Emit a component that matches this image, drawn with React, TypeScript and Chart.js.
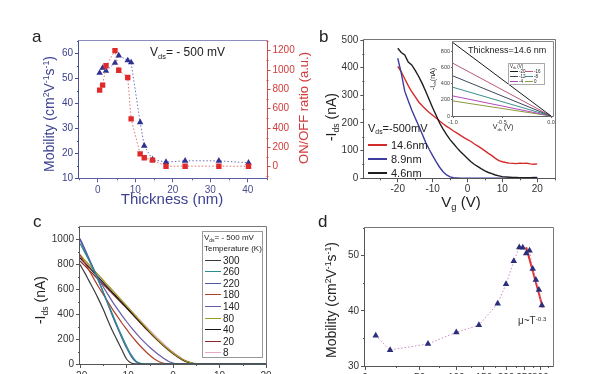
import React, { useEffect, useRef } from 'react';
import { Chart, registerables, LinearScale } from 'chart.js';

const FONT = '"Liberation Sans", Arial, Helvetica, sans-serif';

// ---------------- Panel a: mobility & ON/OFF vs thickness ----------------
const thicknessNm = [0.5, 1.3, 2.2, 4.6, 5.6, 8.0, 8.9, 11.3, 12.4, 14.6, 18.2, 23.3, 32.3, 40.2];
const mobilityVsThickness = [52.2, 54.2, 53.0, 56.2, 59.2, 57.2, 56.4, 32.4, 23.0, 17.5, 16.5, 17.0, 17.0, 16.2];
const onOffRatio = [792, 843, 1044, 1200, 997, 922, 495, 133, 92, 68, 5, 5, 5, 5];
const ticksA_x = [0, 10, 20, 30, 40];
const ticksA_y = [10, 20, 30, 40, 50, 60];
const ticksA_y2 = [0, 200, 400, 600, 800, 1000, 1200];

// ---------------- Panel b: transfer curves ----------------
const vgB = [-20, -19, -18, -17, -16, -15, -14, -13, -12, -11, -10, -9, -8, -7, -6, -5, -4, -3, -2, -1, 0,
  1, 2, 3, 4, 5, 6, 7, 8, 9, 10, 11, 12, 13, 14, 15, 16, 17, 18, 19, 20];
const ids14_6nm = [405, 385, 360, 335, 313, 295, 276, 262, 250, 238, 228, 218, 207, 197, 188, 180, 171, 163, 155, 147, 140,
  133, 124, 116, 108, 99, 90, 82, 72, 64, 60, 57, 55, 54, 53, 55, 54, 55, 52, 51, 52];
const ids8_9nm = [434, 380, 315, 280, 247, 218, 190, 160, 130, 105, 82, 60, 40, 24, 12, 5, 2, 1, 0, 0, 0,
  0, 0, 0, 0, 0, 0, 0, 0, 0, 0, 0, 1, 1, 1, 1, 2, 2, 2, 3, 3];
const ids4_6nm = [470, 455, 446, 420, 410, 390, 368, 343, 315, 285, 255, 228, 200, 178, 158, 140, 125, 110, 96, 84, 72,
  60, 50, 42, 34, 27, 21, 17, 12, 9, 6, 5, 4, 3, 3, 2, 2, 2, 2, 2, 2];
const ticksB_x = [-20, -10, 0, 10, 20];
const ticksB_y = [0, 100, 200, 300, 400, 500];

// inset (output curves, thickness 14.6 nm)
const vdsInset = [-1.0, 0.0];
const insetVgLabels = ['-20', '-16', '-12', '-8', '-4', '0'];
const insetIdsStart = [912, 655, 498, 357, 249, 187];
const insetIdsEnd = [0, 0, 0, 0, 0, 0];
const insetColors = ['#1a1a1a', '#b85a7a', '#3c4660', '#3a8f8a', '#b44ab4', '#8c9a3c'];
const ticksIn_x = [-1.0, -0.5, 0.0];
const ticksIn_y = [0, 200, 400, 600, 800];

// ---------------- Panel c: transfer curves vs temperature ----------------
const vgC = [-20, -19, -18, -17, -16, -15, -14, -13, -12, -11, -10, -9, -8, -7, -6, -5, -4, -3, -2, -1, 0, 1, 2, 3, 4, 5, 6, 20];
const tempLabels = ['300', '260', '220', '180', '140', '80', '40', '20', '8'];
const idsT300 = [800, 735, 665, 595, 520, 440, 350, 265, 190, 115, 40, 8, 1, 0, 0, 0, 0, 0, 0, 0, 0, 0, 0, 0, 0, 0, 0, 0];
const idsT260 = [970, 900, 830, 750, 665, 580, 490, 400, 310, 225, 145, 75, 25, 5, 0, 0, 0, 0, 0, 0, 0, 0, 0, 0, 0, 0, 0, 0];
const idsT220 = [1010, 930, 845, 760, 670, 575, 480, 385, 295, 210, 130, 62, 18, 3, 0, 0, 0, 0, 0, 0, 0, 0, 0, 0, 0, 0, 0, 0];
const idsT180 = [880, 815, 750, 685, 620, 560, 500, 440, 385, 330, 280, 230, 185, 143, 105, 70, 40, 18, 6, 1, 0, 0, 0, 0, 0, 0, 0, 0];
const idsT140 = [1000, 910, 830, 755, 685, 620, 560, 500, 445, 392, 342, 295, 250, 208, 170, 135, 102, 72, 45, 22, 8, 2, 0, 0, 0, 0, 0, 0];
const idsT80 = [880, 838, 797, 756, 715, 674, 633, 592, 551, 510, 469, 428, 385, 343, 302, 261, 222, 185, 150, 118, 88, 62, 38, 20, 9, 3, 0, 0];
const idsT40 = [855, 815, 775, 735, 695, 655, 615, 575, 535, 495, 455, 415, 375, 335, 295, 256, 218, 182, 148, 116, 86, 60, 37, 19, 8, 2, 0, 0];
const idsT20 = [830, 792, 754, 716, 678, 640, 602, 564, 526, 488, 450, 410, 370, 330, 290, 252, 214, 178, 144, 112, 82, 56, 33, 16, 6, 1, 0, 0];
const idsT8 = [870, 830, 790, 750, 710, 670, 630, 590, 550, 510, 470, 430, 390, 350, 310, 272, 234, 197, 162, 128, 96, 68, 43, 23, 10, 3, 0, 0];
const idsByTemp = [idsT300, idsT260, idsT220, idsT180, idsT140, idsT80, idsT40, idsT20, idsT8];
const tempColors = ['#3a3a3a', '#2a8c8c', '#4a58a8', '#b0402a', '#6a5aa8', '#a0a020', '#151515', '#8a2a2a', '#e8a8c8'];
const ticksC_x = [-20, -10, 0, 10, 20];
const ticksC_y = [0, 200, 400, 600, 800, 1000];

// ---------------- Panel d: mobility vs temperature ----------------
const tempK = [8, 20, 60, 100, 140, 180, 200, 220, 235, 245, 255, 265, 275, 285, 295, 305];
const mobilityVsT = [35.5, 32.9, 34.0, 36.1, 37.4, 41.3, 44.85, 49.0, 51.5, 51.45, 50.4, 50.9, 47.6, 45.6, 43.8, 41.0];
const fitTempK = [255, 308];
const fitMobility = [51.5, 40.6];
const ticksD_x = [0, 50, 100, 150, 200, 250, 300];
const ticksD_y = [30, 40, 50];

// ---------------- custom scale for panel d (log(T + offset)) ----------------
const T_OFFSET = 80;
class OffsetLogScale extends LinearScale {
  static id = 'offsetLog';
  getPixelForValue(value: number) {
    const f = (v: number) => Math.log10(v + T_OFFSET);
    const a = f((this as any).min), b = f((this as any).max);
    return this.getPixelForDecimal((f(value) - a) / (b - a));
  }
  getValueForPixel(pixel: number) {
    const f = (v: number) => Math.log10(v + T_OFFSET);
    const a = f((this as any).min), b = f((this as any).max);
    return Math.pow(10, a + this.getDecimalForPixel(pixel) * (b - a)) - T_OFFSET;
  }
}

const framePlugin = {
  id: 'frame',
  afterDraw(chart: any, _args: any, o: any) {
    if (!o || !o.left) return;
    const { ctx, chartArea: a } = chart;
    const l = Math.round(a.left) - 0.5, r = Math.round(a.right) + 0.5;
    const t = Math.round(a.top) - 0.5, b = Math.round(a.bottom) + 0.5;
    ctx.save();
    ctx.lineWidth = o.width || 1;
    const seg = (c: string, x1: number, y1: number, x2: number, y2: number) => {
      ctx.strokeStyle = c; ctx.beginPath(); ctx.moveTo(x1, y1); ctx.lineTo(x2, y2); ctx.stroke();
    };
    seg(o.top, l, t, r, t);
    seg(o.right, r, t, r, b);
    seg(o.bottom, l, b, r, b);
    seg(o.left, l, t, l, b);
    ctx.restore();
  },
};

const minorPlugin = {
  id: 'minorTicks',
  afterDraw(chart: any, _args: any, o: any) {
    if (!o || !o.axes) return;
    const { ctx, chartArea: a } = chart;
    const len = o.len || 2;
    for (const id of o.axes) {
      const s = chart.scales[id];
      if (!s || s.ticks.length < 2) continue;
      const vals = s.ticks.map((t: any) => t.value);
      const step = vals[1] - vals[0];
      const lo = Math.min(s.min, s.max), hi = Math.max(s.min, s.max);
      ctx.save();
      ctx.strokeStyle = s.options.grid.color;
      ctx.lineWidth = 1;
      for (let v = vals[0] - step / 2; v <= hi + 1e-9; v += step) {
        if (v < lo - 1e-9) continue;
        const p = Math.round(s.getPixelForValue(v)) + 0.5;
        ctx.beginPath();
        if (s.position === 'bottom') { ctx.moveTo(p, a.bottom); ctx.lineTo(p, a.bottom + len); }
        else if (s.position === 'left') { ctx.moveTo(a.left, p); ctx.lineTo(a.left - len, p); }
        else { ctx.moveTo(a.right, p); ctx.lineTo(a.right + len, p); }
        ctx.stroke();
      }
      ctx.restore();
    }
  },
};

Chart.register(...registerables, OffsetLogScale as any, framePlugin as any, minorPlugin as any);

const fmtNum = (v: any) => (Math.abs(Number(v)) < 1e-9 ? '0' : String(v));

function mkAxis(p: any) {
  const horiz = p.pos === 'bottom' || p.pos === 'top';
  return {
    type: p.type || 'linear',
    position: p.pos,
    min: p.min,
    max: p.max,
    afterBuildTicks: (s: any) => { s.ticks = p.ticks.map((v: number) => ({ value: v, label: (p.fmt || fmtNum)(v) })); },
    afterFit: (s: any) => { if (horiz) s.height = p.size; else s.width = p.size; },
    grid: { display: true, drawOnChartArea: false, drawTicks: true, tickLength: p.tickLen || 4, color: p.color, lineWidth: 1 },
    border: { display: false },
    ticks: {
      color: p.labelColor,
      font: { family: FONT, size: p.fontSize || 10 },
      padding: p.pad == null ? 2 : p.pad,
      autoSkip: false,
      maxRotation: 0,
      callback: (v: any) => (p.fmt || fmtNum)(v),
    },
  };
}

const baseOpts = (padding: any, plugins: any, scales: any) => ({
  animation: false,
  responsive: false,
  events: [],
  layout: { padding },
  plugins: { legend: { display: false }, tooltip: { enabled: false }, ...plugins },
  scales,
});

const xy = (xs: number[], ys: number[]) => xs.map((x, i) => ({ x, y: ys[i] }));

const cfgA = () => ({
  type: 'scatter',
  data: {
    datasets: [
      {
        data: xy(thicknessNm, onOffRatio), yAxisID: 'y2', showLine: true,
        borderColor: '#e27070', borderWidth: 1, borderDash: [1.5, 2],
        pointStyle: 'rect', pointRadius: 3.8, pointBackgroundColor: '#e02a2a', pointBorderColor: '#e02a2a', pointBorderWidth: 0,
      },
      {
        data: xy(thicknessNm, mobilityVsThickness), yAxisID: 'y', showLine: true,
        borderColor: '#6a70b8', borderWidth: 1, borderDash: [1.5, 2],
        pointStyle: 'triangle', pointRadius: 3.8, pointBackgroundColor: '#2e3192', pointBorderColor: '#2e3192', pointBorderWidth: 0,
      },
    ],
  },
  options: baseOpts({ top: 41, left: 0, right: 0, bottom: 0 },
    { frame: { top: '#8c8cc0', right: '#d24b4b', bottom: '#5b5f9e', left: '#4b4f96' }, minorTicks: { axes: ['x', 'y', 'y2'] } },
    {
      x: mkAxis({ pos: 'bottom', min: -5, max: 45, ticks: ticksA_x, color: '#5b5f9e', labelColor: '#4b4f8e', size: 36.7 }),
      y: mkAxis({ pos: 'left', min: 10, max: 65, ticks: ticksA_y, color: '#4b4f96', labelColor: '#3b3f8a', size: 79 }),
      y2: mkAxis({ pos: 'right', min: -120, max: 1300, ticks: ticksA_y2, color: '#d24b4b', labelColor: '#d03a3a', size: 38.5 }),
    }),
});

const lineDs = (xs: number[], ys: number[], color: string, w = 1.4) => ({
  data: xy(xs, ys), showLine: true, borderColor: color, borderWidth: w, pointRadius: 0, tension: 0,
});

const cfgB = () => ({
  type: 'scatter',
  data: {
    datasets: [
      lineDs(vgB, ids4_6nm, '#1e1e1e'),
      lineDs(vgB, ids8_9nm, '#3d3d9e'),
      lineDs(vgB, ids14_6nm, '#d42a2a'),
    ],
  },
  options: baseOpts({ top: 40, left: 0, right: 55, bottom: 0 },
    { frame: { top: '#777', right: '#777', bottom: '#555', left: '#555' }, minorTicks: { axes: ['x', 'y'] } },
    {
      x: mkAxis({ pos: 'bottom', min: -29.6, max: 25.1, ticks: ticksB_x, color: '#555', labelColor: '#333', size: 36.7, pad: 1 }),
      y: mkAxis({ pos: 'left', min: 0, max: 500, ticks: ticksB_y, color: '#555', labelColor: '#333', size: 59.3 }),
    }),
});

const cfgInset = () => ({
  type: 'scatter',
  data: {
    datasets: insetIdsStart.map((v, i) => lineDs(vdsInset, [v, insetIdsEnd[i]], insetColors[i], 1)),
  },
  options: baseOpts({ top: 6, left: 0, right: 5, bottom: 0 },
    { frame: { top: '#888', right: '#888', bottom: '#666', left: '#666' } },
    {
      x: mkAxis({ pos: 'bottom', min: -1.0, max: 0.02, ticks: ticksIn_x, color: '#666', labelColor: '#444', size: 20, fontSize: 5.5, tickLen: 2, pad: 1, fmt: (v: number) => Number(v).toFixed(1) }),
      y: mkAxis({ pos: 'left', min: 0, max: 920, ticks: ticksIn_y, color: '#666', labelColor: '#444', size: 35, fontSize: 5.5, tickLen: 2, pad: 1 }),
    }),
});

const cfgC = () => ({
  type: 'scatter',
  data: {
    datasets: idsByTemp.map((ys, i) => ({ ...lineDs(vgC, ys, tempColors[i], 1.2), cubicInterpolationMode: 'monotone' })),
  },
  options: baseOpts({ top: 42.3, left: 0, right: 39, bottom: 0 },
    { frame: { top: '#777', right: '#777', bottom: '#555', left: '#555' }, minorTicks: { axes: ['x', 'y'] } },
    {
      x: mkAxis({ pos: 'bottom', min: -20, max: 20, ticks: ticksC_x, color: '#555', labelColor: '#333', size: 36 }),
      y: mkAxis({ pos: 'left', min: 0, max: 1100, ticks: ticksC_y, color: '#555', labelColor: '#333', size: 80 }),
    }),
});

const cfgD = () => ({
  type: 'scatter',
  data: {
    datasets: [
      {
        data: xy(tempK, mobilityVsT), showLine: true, borderColor: '#c88ac8', borderWidth: 1, borderDash: [1.5, 2],
        pointStyle: 'triangle', pointRadius: 3.8, pointBackgroundColor: '#2b2f7a', pointBorderColor: '#2b2f7a', pointBorderWidth: 0,
      },
      { data: xy(fitTempK, fitMobility), showLine: true, borderColor: '#e03030', borderWidth: 2, pointRadius: 0 },
    ],
  },
  options: baseOpts({ top: 43, left: 0, right: 57, bottom: 0 },
    { frame: { top: '#777', right: '#777', bottom: '#555', left: '#555' }, minorTicks: { axes: ['x', 'y'] } },
    {
      x: mkAxis({ type: 'offsetLog', pos: 'bottom', min: 0, max: 345, ticks: ticksD_x, color: '#555', labelColor: '#333', size: 34 }),
      y: mkAxis({ pos: 'left', min: 30, max: 55, ticks: ticksD_y, color: '#555', labelColor: '#333', size: 60 }),
    }),
});

function ChartCanvas({ x, y, w, h, make }: any) {
  const ref = useRef<HTMLCanvasElement | null>(null);
  useEffect(() => {
    const chart = new Chart(ref.current as any, make());
    return () => chart.destroy();
  }, []);
  return <canvas ref={ref} width={w} height={h} style={{ position: 'absolute', left: x, top: y, width: w, height: h }} />;
}

const Sub = ({ children }: any) => <span style={{ fontSize: '0.62em', verticalAlign: '-0.35em', lineHeight: 0 }}>{children}</span>;
const Sup = ({ children }: any) => <span style={{ fontSize: '0.62em', verticalAlign: '0.55em', lineHeight: 0 }}>{children}</span>;

const Txt = ({ x, y, size, color = '#222', center = false, children }: any) => (
  <div style={{ position: 'absolute', left: x, top: y, fontSize: size, lineHeight: 1, color, fontFamily: FONT, whiteSpace: 'nowrap', transform: center ? 'translateX(-50%)' : undefined }}>{children}</div>
);
const VTxt = ({ cx, cy, size, color = '#222', children }: any) => (
  <div style={{ position: 'absolute', left: cx, top: cy, fontSize: size, lineHeight: 1, color, fontFamily: FONT, whiteSpace: 'nowrap', transform: 'translate(-50%,-50%) rotate(-90deg)' }}>{children}</div>
);
const LegRow = ({ x, y, color, label, lineW, size, gap = 4, thick = 2 }: any) => (
  <div style={{ position: 'absolute', left: x, top: y - 7, height: 14, display: 'flex', alignItems: 'center', fontFamily: FONT, fontSize: size, color: '#222', whiteSpace: 'nowrap' }}>
    <span style={{ display: 'inline-block', width: lineW, height: 0, borderTop: `${thick}px solid ${color}` }} />
    <span style={{ marginLeft: gap }}>{label}</span>
  </div>
);

export default function App() {
  return (
    <div style={{ position: 'fixed', left: 0, top: 0, width: 610, height: 374, overflow: 'hidden', background: '#fff' }}>
      <ChartCanvas x={0} y={0} w={305} h={215} make={cfgA} />
      <ChartCanvas x={305} y={0} w={305} h={215} make={cfgB} />
      <ChartCanvas x={418} y={36} w={140} h={100} make={cfgInset} />
      <ChartCanvas x={0} y={185} w={305} h={215} make={cfgC} />
      <ChartCanvas x={305} y={185} w={305} h={215} make={cfgD} />

      {/* panel a texts */}
      <Txt x={32} y={28} size={17}>a</Txt>
      <Txt x={150} y={46} size={12}>V<Sub>ds</Sub>= - 500 mV</Txt>
      <VTxt cx={49} cy={114} size={14} color="#3d4290">Mobility (cm<Sup>2</Sup>V<Sup>-1</Sup>s<Sup>-1</Sup>)</VTxt>
      <VTxt cx={303} cy={108} size={13} color="#d23a3a">ON/OFF ratio (a.u.)</VTxt>
      <Txt x={172} y={191} size={15} color="#3d4290" center>Thickness (nm)</Txt>

      {/* panel b texts */}
      <Txt x={319} y={28} size={17}>b</Txt>
      <VTxt cx={331} cy={117} size={14}>-I<Sub>ds</Sub> (nA)</VTxt>
      <Txt x={461} y={194} size={15} center>V<Sub>g</Sub> (V)</Txt>
      <Txt x={368} y={123} size={11}>V<Sub>ds</Sub>=-500mV</Txt>
      <LegRow x={368} y={144.5} color="#d42a2a" label="14.6nm" lineW={19} size={11} />
      <LegRow x={368} y={159} color="#3d3d9e" label="8.9nm" lineW={19} size={11} />
      <LegRow x={368} y={172.7} color="#1e1e1e" label="4.6nm" lineW={19} size={11} />

      {/* inset texts */}
      <Txt x={468} y={46} size={9}>Thickness=14.6 nm</Txt>
      <VTxt cx={432} cy={79} size={7}>-I<Sub>ds</Sub>(nA)</VTxt>
      <Txt x={503} y={123} size={7} center>V<Sub>ds</Sub> (V)</Txt>
      <div style={{ position: 'absolute', left: 508, top: 63, width: 37, height: 22, border: '1px solid #aaa', boxSizing: 'border-box', background: '#fff' }} />
      <Txt x={510} y={64.5} size={4.5}>V<Sub>ds</Sub> (V)</Txt>
      {insetVgLabels.map((lab, i) => (
        <LegRow key={lab} x={510 + (i % 2) * 15} y={71 + Math.floor(i / 2) * 5} color={insetColors[i]} label={lab} lineW={8} size={4.5} gap={1} thick={1} />
      ))}

      {/* panel c texts */}
      <Txt x={33} y={213} size={17}>c</Txt>
      <VTxt cx={40} cy={300} size={14}>-I<Sub>ds</Sub> (nA)</VTxt>
      <div style={{ position: 'absolute', left: 202, top: 231, width: 61, height: 127, border: '1px solid #999', boxSizing: 'border-box', background: '#fff' }} />
      <Txt x={204} y={234} size={8}>V<Sub>ds</Sub>= - 500 mV</Txt>
      <Txt x={204} y={245} size={8}>Temperature (K)</Txt>
      {tempLabels.map((lab, i) => (
        <LegRow key={lab} x={205} y={260 + i * 11.6} color={tempColors[i]} label={lab} lineW={16} size={10} gap={2} thick={1.5} />
      ))}

      {/* panel d texts */}
      <Txt x={318} y={213} size={17}>d</Txt>
      <VTxt cx={331} cy={300} size={14}>Mobility (cm<Sup>2</Sup>V<Sup>-1</Sup>s<Sup>-1</Sup>)</VTxt>
      <Txt x={518} y={316} size={10} color="#333">μ~T<Sup>-0.3</Sup></Txt>
    </div>
  );
}
